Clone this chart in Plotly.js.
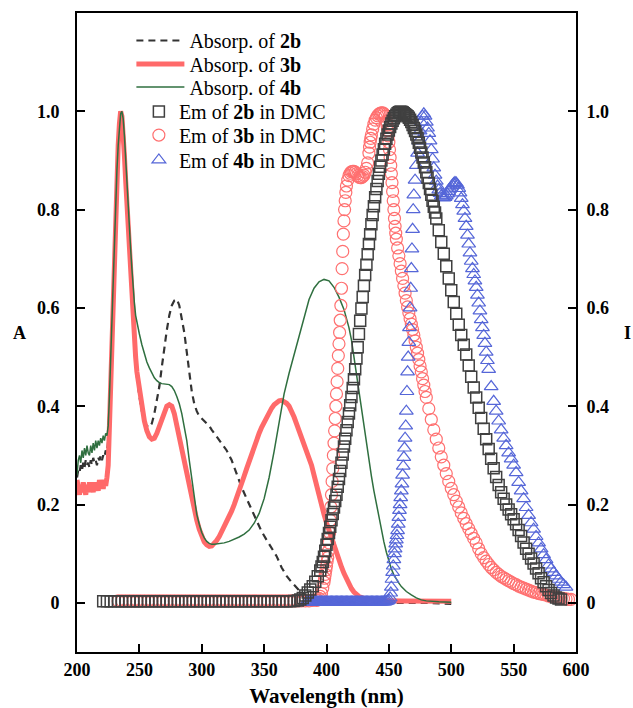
<!DOCTYPE html>
<html>
<head>
<meta charset="utf-8">
<script src="https://cdn.plot.ly/plotly-3.0.1.min.js"></script>
<style>html,body{margin:0;padding:0;background:#fff;}#chart{width:633px;height:708px;}</style>
</head>
<body>
<div id="chart"></div>
<script>
// ---------- tick labels ----------
var xTickVals = [200, 250, 300, 350, 400, 450, 500, 550, 600];
var yTickVals = [0, 0.2, 0.4, 0.6, 0.8, 1.0];
var yTickText = ["0", "0.2", "0.4", "0.6", "0.8", "1.0"];

// ---------- series names ----------
var seriesNames = ["Absorp. of <b>2b</b>", "Absorp. of <b>3b</b>", "Absorp. of <b>4b</b>",
                   "Em of <b>2b</b> in DMC", "Em of <b>3b</b> in DMC", "Em of <b>4b</b> in DMC"];

// ---------- absorption of 2b (dashed) : [wavelength, A] ----------
var abs2b = [[200,0.255],[201,0.27],[202,0.265],[203,0.28],[204,0.27],[205,0.285],[206,0.275],[207,0.29],[208,0.28],[209,0.285],
[210,0.275],[211,0.29],[212,0.28],[213,0.295],[214,0.285],[215,0.29],[216,0.28],[217,0.295],[218,0.29],[219,0.3],
[220,0.29],[221,0.3],[222,0.295],[223,0.31],[224,0.305],[225,0.33],[226,0.4],[227,0.48],[228,0.56],[229,0.64],
[230,0.73],[231,0.82],[232,0.89],[233,0.95],[234,0.985],[235,1.0],[236,0.985],[237,0.95],[238,0.9],[239,0.85],
[240,0.8],[241,0.75],[242,0.71],[243,0.66],[244,0.61],[245,0.57],[246,0.525],[247,0.49],[248,0.46],
[250,0.42],[252,0.39],[254,0.37],[256,0.36],[258,0.357],[260,0.365],[262,0.385],[264,0.41],[266,0.44],[268,0.48],
[270,0.52],[272,0.555],[274,0.585],[276,0.605],[278,0.615],[280,0.618],[282,0.605],[284,0.58],[286,0.55],[288,0.51],
[290,0.47],[292,0.43],[294,0.405],[296,0.39],[298,0.38],[300,0.375],[302,0.37],[304,0.365],[306,0.36],[308,0.352],[310,0.345],
[314,0.33],[318,0.315],[320,0.31],[324,0.29],[328,0.262],[332,0.235],[336,0.212],[340,0.19],[344,0.167],[348,0.145],
[352,0.128],[356,0.11],[360,0.095],[364,0.072],[368,0.055],[372,0.042],[376,0.03],[380,0.02],
[385,0.012],[390,0.007],[400,0.003],[420,0.001],[440,0],[460,0],[480,0],[500,-0.002]];

// ---------- absorption of 3b (thick red) ----------
var abs3b = [[200,0.25],[201,0.23],[202,0.22],[203,0.24],[204,0.225],[205,0.245],[206,0.23],[207,0.22],[208,0.24],[209,0.225],
[210,0.245],[211,0.23],[212,0.235],[213,0.225],[214,0.245],[215,0.23],[216,0.24],[217,0.228],[218,0.25],[219,0.235],
[220,0.245],[221,0.232],[222,0.25],[223,0.238],[224,0.255],[225,0.28],[226,0.36],[227,0.45],[228,0.55],[229,0.63],
[230,0.72],[231,0.8],[232,0.87],[233,0.93],[234,0.975],[235,1.0],[236,0.99],[237,0.96],[238,0.91],[239,0.86],
[240,0.81],[241,0.76],[242,0.71],[243,0.66],[244,0.61],[245,0.57],[246,0.53],[247,0.5],[248,0.47],
[250,0.43],[252,0.4],[254,0.37],[256,0.35],[258,0.338],[260,0.333],[262,0.335],[264,0.345],[266,0.36],[268,0.375],
[270,0.39],[272,0.4],[274,0.403],[276,0.4],[278,0.385],[280,0.36],[282,0.335],[284,0.31],[286,0.29],[288,0.265],
[290,0.24],[292,0.215],[294,0.19],[296,0.168],[298,0.15],[300,0.135],[302,0.124],[304,0.118],[306,0.115],[308,0.116],
[310,0.12],[312,0.127],[314,0.135],[316,0.145],[318,0.154],[320,0.163],[322,0.175],[324,0.187],[326,0.2],[328,0.213],
[330,0.228],[332,0.243],[334,0.258],[336,0.273],[338,0.289],[340,0.304],[342,0.318],[344,0.332],[346,0.345],[348,0.357],
[350,0.368],[352,0.378],[354,0.388],[356,0.396],[358,0.403],[360,0.408],[362,0.411],[364,0.412],[366,0.41],[368,0.406],
[370,0.4],[372,0.39],[374,0.378],[376,0.364],[378,0.35],[380,0.338],[382,0.325],[384,0.31],[386,0.298],[388,0.28],
[390,0.26],[392,0.238],[394,0.218],[396,0.198],[398,0.18],[400,0.163],[402,0.147],[404,0.133],[406,0.118],[408,0.103],
[410,0.088],[412,0.073],[414,0.06],[416,0.048],[418,0.038],[420,0.029],[422,0.022],
[426,0.013],[430,0.009],[440,0.005],[460,0.004],[480,0.003],[500,0.003]];

// ---------- absorption of 4b (thin green) ----------
var abs4b = [[200,0.26],[201,0.29],[202,0.3],[203,0.285],[204,0.31],[205,0.295],[206,0.315],[207,0.3],[208,0.32],[209,0.305],
[210,0.3],[211,0.32],[212,0.305],[213,0.325],[214,0.31],[215,0.33],[216,0.315],[217,0.33],[218,0.32],[219,0.335],
[220,0.325],[221,0.34],[222,0.33],[223,0.345],[224,0.34],[225,0.36],[226,0.42],[227,0.5],[228,0.58],[229,0.66],
[230,0.74],[231,0.82],[232,0.88],[233,0.93],[234,0.97],[235,0.995],[236,1.0],[237,0.985],[238,0.95],[239,0.9],
[240,0.85],[241,0.81],[242,0.77],[243,0.72],[244,0.68],[245,0.64],[246,0.61],[247,0.585],[248,0.57],
[250,0.547],[252,0.525],[254,0.505],[256,0.49],[258,0.478],[260,0.467],[262,0.458],[264,0.452],[266,0.448],[268,0.446],
[270,0.445],[272,0.445],[274,0.444],[276,0.44],[278,0.432],[280,0.42],[282,0.405],[284,0.385],[286,0.36],[288,0.33],
[290,0.29],[292,0.25],[294,0.21],[296,0.18],[298,0.16],[300,0.143],[302,0.132],[304,0.125],[306,0.121],[308,0.119],[310,0.119],
[314,0.12],[318,0.122],[322,0.125],[326,0.129],[330,0.134],[334,0.14],[338,0.148],[342,0.162],[346,0.182],[350,0.212],
[354,0.255],[358,0.308],[362,0.37],[366,0.425],[370,0.467],[374,0.505],[378,0.545],[382,0.582],[386,0.617],[390,0.64],
[394,0.653],[398,0.658],[402,0.655],[406,0.642],[410,0.622],[414,0.597],
[418,0.56],[420,0.535],[422,0.5],[424,0.46],[426,0.425],[428,0.39],[430,0.355],[432,0.32],[434,0.29],[436,0.258],
[438,0.228],[440,0.2],[442,0.173],[444,0.147],[446,0.124],[448,0.103],[450,0.084],[452,0.069],[454,0.057],[456,0.047],
[458,0.04],[460,0.033],[464,0.023],[468,0.016],[472,0.01],[476,0.006],[480,0.004],[490,0.002],[500,0.001]];

// ---------- emission of 2b in DMC (squares) : [wavelength, I] ----------
var em2b = [[221,0.003],[224,0.003],[227,0.003],[230,0.003],[233,0.003],[236,0.003],[239,0.003],[242,0.003],[245,0.003],[248,0.003],
[251,0.003],[254,0.003],[257,0.003],[260,0.003],[263,0.003],[266,0.003],[269,0.003],[272,0.003],[275,0.003],[278,0.003],
[281,0.003],[284,0.003],[287,0.003],[290,0.003],[293,0.003],[296,0.003],[299,0.003],[302,0.003],[305,0.003],[308,0.003],
[311,0.003],[314,0.003],[317,0.003],[320,0.003],[323,0.003],[326,0.003],[329,0.003],[332,0.003],[335,0.003],[338,0.003],
[341,0.003],[344,0.003],[347,0.003],[350,0.003],[353,0.003],[356,0.003],[359,0.003],[362,0.003],[365,0.003],[368,0.003],
[371,0.003],[374,0.004],[377,0.005],[379,0.007],[381,0.01],[383,0.015],[385,0.021],[387,0.027],[389,0.034],[391,0.043],
[393,0.054],[395,0.066],[396,0.074],[397,0.083],[398,0.094],[399,0.106],[400,0.118],[401,0.13],[402,0.142],[403,0.155],
[404,0.168],[405,0.181],[406,0.194],[407,0.207],[408,0.22],[409,0.236],[410,0.252],[411,0.268],[412,0.285],[413,0.302],
[414,0.318],[415,0.334],[416,0.351],[417,0.368],[418,0.385],[419,0.402],[420,0.419],[421,0.437],[422,0.455],[423,0.475],
[424,0.497],[425,0.52],[426,0.547],[427,0.574],[428,0.599],[429,0.622],[430,0.645],[431,0.667],[432,0.688],[433,0.709],
[434,0.73],[435,0.75],[436,0.77],[437,0.789],[438,0.807],[439,0.825],[440,0.842],[441,0.858],[442,0.873],[443,0.887],
[444,0.9],[445,0.912],[446,0.923],[447,0.934],[448,0.944],[449,0.953],[450,0.961],[451,0.968],[452,0.975],[453,0.981],
[454,0.986],[455,0.99],[456,0.993],[457,0.996],[458,0.998],[459,0.999],[460,0.999],[461,0.998],[462,0.996],[463,0.994],
[464,0.992],[465,0.99],[466,0.987],[467,0.983],[468,0.978],[469,0.972],[470,0.966],[471,0.96],[472,0.953],[473,0.945],
[474,0.936],[475,0.926],[476,0.916],[477,0.906],[478,0.896],[479,0.886],[480,0.876],[481,0.865],[482,0.854],[483,0.842],
[484,0.83],[485,0.818],[486,0.806],[487,0.794],[488,0.782],[490,0.758],[492,0.734],[494,0.71],[496,0.685],[498,0.66],
[500,0.636],[502,0.612],[504,0.588],[506,0.566],[508,0.545],[510,0.525],[512,0.505],[514,0.483],[516,0.46],[518,0.438],
[520,0.418],[522,0.397],[524,0.376],[526,0.354],[528,0.333],[530,0.313],[532,0.293],[534,0.274],[536,0.256],[538,0.24],
[540,0.225],[542,0.212],[544,0.2],[546,0.19],[548,0.18],[550,0.17],[552,0.16],[554,0.148],[556,0.136],[558,0.123],
[560,0.11],[562,0.1],[564,0.09],[566,0.08],[568,0.07],[570,0.06],[572,0.05],[574,0.042],[576,0.034],[578,0.026],
[580,0.02],[582,0.015],[584,0.011],[586,0.009],[588,0.007]];

// ---------- emission of 3b in DMC (circles) ----------
var em3b = [[233,0.004],[236,0.004],[239,0.004],[242,0.004],[245,0.004],[248,0.004],[251,0.004],[254,0.004],[257,0.004],[260,0.004],
[263,0.004],[266,0.004],[269,0.004],[272,0.004],[275,0.004],[278,0.004],[281,0.004],[284,0.004],[287,0.004],[290,0.004],
[293,0.004],[296,0.004],[299,0.004],[302,0.004],[305,0.004],[308,0.004],[311,0.004],[314,0.004],[317,0.004],[320,0.004],
[323,0.004],[326,0.004],[329,0.004],[332,0.004],[335,0.004],[338,0.004],[341,0.004],[344,0.004],[347,0.004],[350,0.004],
[353,0.004],[356,0.004],[359,0.004],[362,0.004],[365,0.004],[368,0.004],[371,0.004],[374,0.004],[377,0.004],[380,0.004],
[383,0.004],[386,0.004],[389,0.005],[392,0.005],[393,0.006],[394,0.009],[395,0.013],[396,0.019],[397,0.03],[398,0.042],
[398.5,0.05],[399,0.058],[399.5,0.067],[400,0.075],[400.5,0.084],[401,0.092],[401.5,0.105],[402,0.122],[402.5,0.143],[403,0.168],
[403.5,0.195],[404,0.22],[404.5,0.247],[405,0.273],[405.5,0.3],[406,0.325],[406.5,0.35],[407,0.375],[407.5,0.4],[408,0.425],
[408.5,0.45],[409,0.477],[409.5,0.503],[410,0.527],[410.5,0.55],[411,0.575],[411.5,0.605],[412,0.64],[412.5,0.68],[413,0.715],
[413.5,0.75],[414,0.777],[414.5,0.8],[415,0.818],[415.5,0.835],[416,0.848],[417,0.86],[418,0.869],[419,0.874],[420,0.877],
[421,0.878],[422,0.878],[423,0.876],[424,0.873],[425,0.869],[426,0.866],[427,0.865],[428,0.865],[429,0.867],[430,0.87],
[431,0.876],[432,0.884],[433,0.895],[434,0.915],[434.5,0.927],[435,0.937],[435.5,0.945],[436,0.952],[437,0.964],[438,0.974],
[439,0.982],[440,0.987],[441,0.991],[442,0.994],[443,0.996],[444,0.997],[445,0.997],[446,0.995],[447,0.99],[448,0.98],
[448.5,0.972],[449,0.962],[449.5,0.95],[450,0.937],[450.5,0.922],[451,0.906],[451.5,0.89],[452,0.873],[452.5,0.855],[453,0.837],
[453.5,0.818],[454,0.8],[454.5,0.782],[455,0.766],[455.5,0.752],[456,0.74],[457,0.722],[458,0.706],[459,0.69],[460,0.675],
[461,0.66],[462,0.645],[463,0.63],[464,0.615],[465,0.602],[466,0.59],[467,0.578],[468,0.567],[469,0.556],[470,0.545],
[471,0.533],[472,0.52],[473,0.508],[474,0.495],[475,0.482],[476,0.47],[477,0.456],[478,0.443],[479,0.43],[480,0.418],
[482,0.395],[484,0.373],[486,0.352],[488,0.333],[490,0.315],[492,0.297],[494,0.28],[496,0.263],[498,0.247],[500,0.233],
[502,0.22],[504,0.207],[506,0.195],[508,0.183],[510,0.172],[512,0.161],[514,0.151],[516,0.141],[518,0.131],[520,0.122],
[522,0.11],[524,0.1],[526,0.092],[528,0.085],[530,0.078],[532,0.072],[534,0.067],[536,0.062],[538,0.058],[540,0.054],
[542,0.051],[544,0.048],[546,0.045],[548,0.042],[550,0.039],[552,0.037],[554,0.034],[556,0.032],[558,0.03],[560,0.028],
[562,0.026],[564,0.024],[566,0.022],[568,0.021],[570,0.019],[572,0.018],[574,0.017],[576,0.016],[578,0.014],[580,0.013],
[582,0.012],[584,0.011],[586,0.01],[588,0.009],[590,0.009],[592,0.008],[594,0.007],[596,0.007]];

// ---------- emission of 4b in DMC (triangles) ----------
var em4b = [[384,0.002],[385,0.002],[386,0.002],[387,0.002],[388,0.002],[389,0.002],[390,0.002],[391,0.002],[392,0.002],[393,0.002],
[394,0.002],[395,0.002],[396,0.002],[397,0.002],[398,0.002],[399,0.002],[400,0.002],[401,0.002],[402,0.002],[403,0.002],
[404,0.002],[405,0.002],[406,0.002],[407,0.002],[408,0.002],[409,0.002],[410,0.002],[411,0.002],[412,0.002],[413,0.002],
[414,0.002],[415,0.002],[416,0.002],[417,0.002],[418,0.002],[419,0.002],[420,0.002],[421,0.002],[422,0.002],[423,0.002],
[424,0.002],[425,0.002],[426,0.002],[427,0.002],[428,0.002],[429,0.002],[430,0.002],[431,0.002],[432,0.002],[433,0.002],
[434,0.002],[435,0.002],[436,0.002],[437,0.002],[438,0.002],[439,0.002],[440,0.002],[441,0.002],[442,0.002],[443,0.002],
[444,0.002],[445,0.002],[446,0.002],[447,0.002],[448,0.003],[449,0.004],[450,0.006],[451,0.01],[451.5,0.02],[452,0.032],
[452.5,0.048],[453,0.062],[453.5,0.075],[454,0.088],[454.5,0.1],[455,0.11],[455.5,0.12],[456,0.128],[456.5,0.137],[457,0.147],
[457.5,0.16],[458,0.174],[458.5,0.188],[459,0.2],[459.5,0.214],[460,0.228],[460.5,0.242],[461,0.26],[461.5,0.278],[462,0.296],
[462.5,0.315],[463,0.335],[463.5,0.36],[464,0.39],[464.5,0.43],[465,0.47],[465.5,0.5],[466,0.53],[466.5,0.56],[467,0.6],
[467.5,0.64],[468,0.68],[468.5,0.72],[469,0.76],[469.5,0.8],[470,0.83],[471,0.86],[472,0.89],[473,0.915],[474,0.94],
[475,0.96],[476,0.978],[477,0.99],[478,0.995],[479,0.99],[480,0.978],[481,0.966],[482,0.955],[483,0.94],[484,0.922],
[485,0.903],[486,0.885],[487,0.87],[488,0.858],[489,0.848],[490,0.84],[491,0.833],[492,0.828],[493,0.825],[494,0.824],
[495,0.825],[496,0.828],[497,0.832],[498,0.837],[499,0.842],[500,0.846],[501,0.85],[502,0.853],[503,0.855],[504,0.854],
[505,0.85],[506,0.843],[507,0.834],[508,0.823],[509,0.81],[510,0.797],[511,0.782],[512,0.766],[513,0.748],[514,0.73],
[515,0.712],[516,0.695],[517,0.68],[518,0.668],[519,0.655],[520,0.642],[521,0.626],[522,0.61],[523,0.594],[524,0.576],
[525,0.56],[526,0.544],[527,0.528],[528,0.51],[529,0.493],[530,0.475],[532,0.44],[534,0.41],[536,0.39],[538,0.37],
[540,0.352],[542,0.335],[544,0.32],[546,0.305],[548,0.293],[550,0.28],[552,0.265],[554,0.245],[556,0.228],[558,0.212],
[560,0.194],[562,0.178],[564,0.163],[566,0.15],[568,0.135],[570,0.122],[572,0.11],[574,0.098],[576,0.088],[578,0.077],
[580,0.069],[582,0.062],[584,0.055],[586,0.048],[588,0.042],[590,0.037],[592,0.032]];

function xs(p) { return p.map(function (d) { return d[0]; }); }
function ys(p) { return p.map(function (d) { return d[1]; }); }

var serif = "Liberation Serif, Times New Roman, serif";

var traces = [
  {x: xs(abs2b), y: ys(abs2b), type: "scatter", mode: "lines", name: seriesNames[0],
   line: {color: "#333333", width: 2.2, dash: "7px,5px"}, yaxis: "y", legend: "legend"},
  {x: xs(abs3b), y: ys(abs3b), type: "scatter", mode: "lines", name: seriesNames[1],
   line: {color: "#ff6a6a", width: 5}, yaxis: "y", legend: "legend2"},
  {x: xs(abs4b), y: ys(abs4b), type: "scatter", mode: "lines", name: seriesNames[2],
   line: {color: "#2f6f3f", width: 1.5}, yaxis: "y", legend: "legend3"},
  {x: xs(em3b), y: ys(em3b), type: "scatter", mode: "markers", name: seriesNames[4],
   marker: {symbol: "circle-open", size: 12, color: "#ff7070", line: {width: 1.2}},
   yaxis: "y2", legend: "legend5"},
  {x: xs(em4b), y: ys(em4b), type: "scatter", mode: "markers", name: seriesNames[5],
   marker: {symbol: "triangle-up-open", size: 12, color: "#5566d8", line: {width: 1.2}},
   yaxis: "y2", legend: "legend6"},
  {x: xs(em2b), y: ys(em2b), type: "scatter", mode: "markers", name: seriesNames[3],
   marker: {symbol: "square-open", size: 11, color: "#404040", line: {width: 1.5}},
   yaxis: "y2", legend: "legend4"}
];

var tickFont = {family: serif, size: 18, color: "#000", weight: "bold"};
var yAxisBase = {
  range: [-0.1, 1.2], tickvals: yTickVals, ticktext: yTickText,
  ticks: "inside", ticklen: 8, tickwidth: 2, tickcolor: "#000",
  showline: true, linewidth: 2, linecolor: "#000",
  showgrid: false, zeroline: false, tickfont: tickFont
};

var legFont = {family: serif, size: 20, color: "#000"};
function leg(xp, yp, w) {
  return {x: xp, y: yp, xanchor: "left", yanchor: "middle", bgcolor: "rgba(0,0,0,0)",
          font: legFont, itemwidth: w, borderwidth: 0};
}

var layout = {
  width: 633, height: 708,
  margin: {l: 77, r: 57, t: 13, b: 56},
  paper_bgcolor: "#fff", plot_bgcolor: "#fff",
  showlegend: true,
  xaxis: {
    range: [200, 600], tickvals: xTickVals, ticks: "inside", ticklen: 8, tickwidth: 2, tickcolor: "#000",
    showline: true, mirror: true, linewidth: 2, linecolor: "#000",
    showgrid: false, zeroline: false, tickfont: tickFont, ticklabelstandoff: 0,
    title: {text: "Wavelength (nm)", font: {family: serif, size: 21, color: "#000", weight: "bold"}, standoff: 12}
  },
  yaxis: Object.assign({}, yAxisBase, {side: "left", ticklabelstandoff: 12}),
  yaxis2: Object.assign({}, yAxisBase, {side: "right", overlaying: "y", ticklabelstandoff: 5}),
  legend: leg(0.109, 0.957, 48),
  legend2: leg(0.109, 0.920, 48),
  legend3: leg(0.109, 0.884, 48),
  legend4: leg(0.124, 0.846, 30),
  legend5: leg(0.124, 0.809, 30),
  legend6: leg(0.124, 0.770, 30),
  annotations: [
    {text: "A", xref: "paper", yref: "paper", x: -0.116, y: 0.50, xanchor: "center", showarrow: false,
     font: {family: serif, size: 18, color: "#000", weight: "bold"}},
    {text: "I", xref: "paper", yref: "paper", x: 1.104, y: 0.50, xanchor: "center", showarrow: false,
     font: {family: serif, size: 18, color: "#000", weight: "bold"}}
  ]
};

Plotly.newPlot("chart", traces, layout, {displayModeBar: false, staticPlot: true});
</script>
</body>
</html>
